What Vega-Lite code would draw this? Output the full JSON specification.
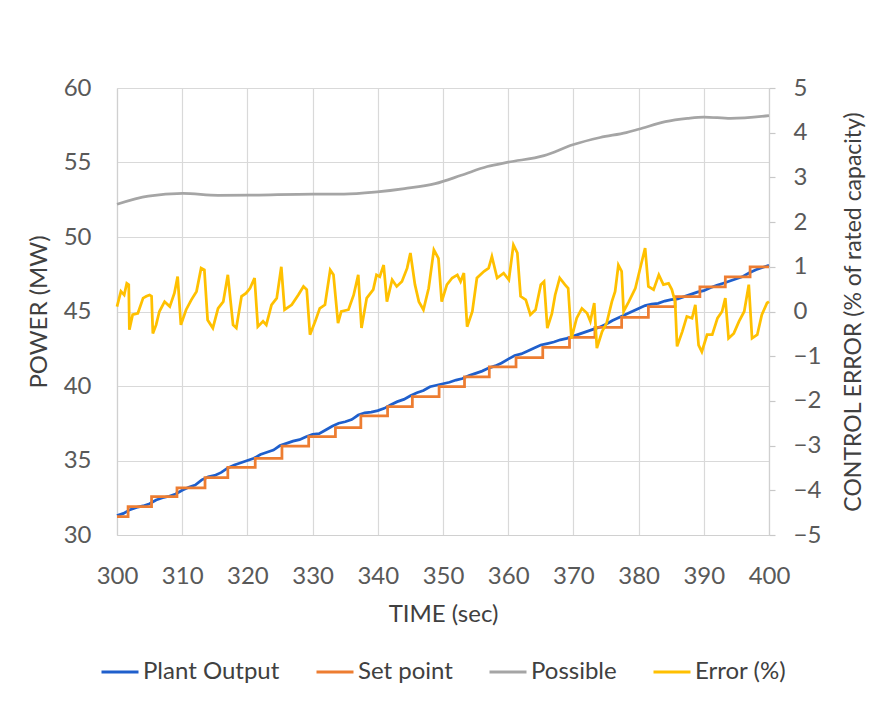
{
  "$schema": "https://vega.github.io/schema/vega-lite/v6.json",
  "width": 652,
  "height": 447,
  "autosize": {"type": "none"},
  "padding": {"left": 117, "top": 88, "right": 114, "bottom": 169},
  "background": "white",
  "datasets": {
    "plant": [
      {"t": 300, "v": 31.30}, {"t": 301, "v": 31.45}, {"t": 302, "v": 31.70}, {"t": 303, "v": 31.85}, {"t": 304, "v": 31.95},
      {"t": 305, "v": 32.10}, {"t": 306, "v": 32.35}, {"t": 307, "v": 32.50}, {"t": 308, "v": 32.60}, {"t": 309, "v": 32.75},
      {"t": 310, "v": 33.00}, {"t": 311, "v": 33.20}, {"t": 312, "v": 33.35}, {"t": 313, "v": 33.70}, {"t": 314, "v": 33.90},
      {"t": 315, "v": 34.00}, {"t": 316, "v": 34.20}, {"t": 317, "v": 34.50}, {"t": 318, "v": 34.70}, {"t": 319, "v": 34.85},
      {"t": 320, "v": 35.00}, {"t": 321, "v": 35.15}, {"t": 322, "v": 35.40}, {"t": 323, "v": 35.55}, {"t": 324, "v": 35.70},
      {"t": 325, "v": 36.00}, {"t": 326, "v": 36.15}, {"t": 327, "v": 36.30}, {"t": 328, "v": 36.40}, {"t": 329, "v": 36.60},
      {"t": 330, "v": 36.75}, {"t": 331, "v": 36.80}, {"t": 332, "v": 37.05}, {"t": 333, "v": 37.30}, {"t": 334, "v": 37.50},
      {"t": 335, "v": 37.60}, {"t": 336, "v": 37.75}, {"t": 337, "v": 38.05}, {"t": 338, "v": 38.20}, {"t": 339, "v": 38.25},
      {"t": 340, "v": 38.35}, {"t": 341, "v": 38.50}, {"t": 342, "v": 38.75}, {"t": 343, "v": 38.95}, {"t": 344, "v": 39.10},
      {"t": 345, "v": 39.35}, {"t": 346, "v": 39.55}, {"t": 347, "v": 39.70}, {"t": 348, "v": 39.95}, {"t": 349, "v": 40.05},
      {"t": 350, "v": 40.15}, {"t": 351, "v": 40.25}, {"t": 352, "v": 40.40}, {"t": 353, "v": 40.50}, {"t": 354, "v": 40.70},
      {"t": 355, "v": 40.85}, {"t": 356, "v": 41.00}, {"t": 357, "v": 41.20}, {"t": 358, "v": 41.35}, {"t": 359, "v": 41.55},
      {"t": 360, "v": 41.80}, {"t": 361, "v": 42.05}, {"t": 362, "v": 42.15}, {"t": 363, "v": 42.35}, {"t": 364, "v": 42.55},
      {"t": 365, "v": 42.75}, {"t": 366, "v": 42.85}, {"t": 367, "v": 42.95}, {"t": 368, "v": 43.10}, {"t": 369, "v": 43.20},
      {"t": 370, "v": 43.35}, {"t": 371, "v": 43.50}, {"t": 372, "v": 43.65}, {"t": 373, "v": 43.80}, {"t": 374, "v": 43.95},
      {"t": 375, "v": 44.15}, {"t": 376, "v": 44.40}, {"t": 377, "v": 44.60}, {"t": 378, "v": 44.80}, {"t": 379, "v": 45.00},
      {"t": 380, "v": 45.20}, {"t": 381, "v": 45.40}, {"t": 382, "v": 45.50}, {"t": 383, "v": 45.55}, {"t": 384, "v": 45.70},
      {"t": 385, "v": 45.80}, {"t": 386, "v": 45.85}, {"t": 387, "v": 46.00}, {"t": 388, "v": 46.15}, {"t": 389, "v": 46.30},
      {"t": 390, "v": 46.40}, {"t": 391, "v": 46.60}, {"t": 392, "v": 46.75}, {"t": 393, "v": 46.90}, {"t": 394, "v": 47.05},
      {"t": 395, "v": 47.20}, {"t": 396, "v": 47.35}, {"t": 397, "v": 47.60}, {"t": 398, "v": 47.80}, {"t": 399, "v": 47.95},
      {"t": 400, "v": 48.10}
    ],
    "setpoint": [
      {"t": 300, "v": 31.23}, {"t": 301.7, "v": 31.90}, {"t": 305.3, "v": 32.57}, {"t": 309.2, "v": 33.17},
      {"t": 313.5, "v": 33.85}, {"t": 317.0, "v": 34.54}, {"t": 321.2, "v": 35.15}, {"t": 325.3, "v": 35.97},
      {"t": 329.4, "v": 36.60}, {"t": 333.5, "v": 37.20}, {"t": 337.4, "v": 37.99}, {"t": 341.5, "v": 38.61},
      {"t": 345.3, "v": 39.28}, {"t": 349.4, "v": 39.95}, {"t": 353.3, "v": 40.62}, {"t": 357.1, "v": 41.29},
      {"t": 361.2, "v": 41.90}, {"t": 365.3, "v": 42.60}, {"t": 369.4, "v": 43.27}, {"t": 373.3, "v": 43.94},
      {"t": 377.4, "v": 44.61}, {"t": 381.5, "v": 45.32}, {"t": 385.6, "v": 45.99}, {"t": 389.4, "v": 46.66},
      {"t": 393.3, "v": 47.33}, {"t": 397.1, "v": 48.00}, {"t": 400, "v": 48.00}
    ],
    "possible": [
      {"t": 300.0, "v": 52.20}, {"t": 304.8, "v": 52.74}, {"t": 310.1, "v": 52.92}, {"t": 315.5, "v": 52.80},
      {"t": 320.3, "v": 52.81}, {"t": 330.1, "v": 52.88}, {"t": 334.8, "v": 52.88}, {"t": 339.9, "v": 53.03},
      {"t": 344.1, "v": 53.25}, {"t": 348.8, "v": 53.58}, {"t": 352.8, "v": 54.14}, {"t": 356.8, "v": 54.73},
      {"t": 360.0, "v": 55.02}, {"t": 365.5, "v": 55.46}, {"t": 369.9, "v": 56.19}, {"t": 374.1, "v": 56.68},
      {"t": 378.1, "v": 57.01}, {"t": 380.0, "v": 57.23}, {"t": 384.1, "v": 57.74}, {"t": 387.5, "v": 57.96},
      {"t": 390.0, "v": 58.05}, {"t": 394.1, "v": 57.96}, {"t": 400.0, "v": 58.14}
    ],
    "error": [
      {"t": 300.0, "e": 0.11}, {"t": 300.6, "e": 0.45}, {"t": 301.1, "e": 0.37}, {"t": 301.5, "e": 0.63}, {"t": 301.8, "e": 0.60},
      {"t": 301.9, "e": -0.41}, {"t": 302.4, "e": -0.07}, {"t": 303.2, "e": -0.04}, {"t": 304.0, "e": 0.30}, {"t": 304.5, "e": 0.34},
      {"t": 305.0, "e": 0.37}, {"t": 305.3, "e": 0.34}, {"t": 305.5, "e": -0.49}, {"t": 306.0, "e": -0.30}, {"t": 306.5, "e": 0.00},
      {"t": 307.3, "e": 0.22}, {"t": 308.1, "e": 0.11}, {"t": 308.8, "e": 0.41}, {"t": 309.3, "e": 0.78}, {"t": 309.8, "e": -0.30},
      {"t": 310.6, "e": 0.04}, {"t": 311.4, "e": 0.26}, {"t": 312.2, "e": 0.45}, {"t": 312.9, "e": 0.97}, {"t": 313.4, "e": 0.93},
      {"t": 313.9, "e": -0.19}, {"t": 314.7, "e": -0.37}, {"t": 315.5, "e": 0.07}, {"t": 316.3, "e": 0.22}, {"t": 317.0, "e": 0.82},
      {"t": 317.8, "e": -0.30}, {"t": 318.3, "e": -0.37}, {"t": 319.1, "e": 0.34}, {"t": 319.8, "e": 0.41}, {"t": 320.4, "e": 0.52},
      {"t": 321.1, "e": 0.75}, {"t": 321.6, "e": -0.34}, {"t": 322.4, "e": -0.22}, {"t": 322.9, "e": -0.30}, {"t": 323.7, "e": 0.15},
      {"t": 324.5, "e": 0.30}, {"t": 325.2, "e": 1.00}, {"t": 325.7, "e": 0.04}, {"t": 326.8, "e": 0.15}, {"t": 327.8, "e": 0.37},
      {"t": 328.6, "e": 0.56}, {"t": 329.1, "e": 0.49}, {"t": 329.6, "e": -0.52}, {"t": 330.4, "e": -0.22}, {"t": 331.1, "e": 0.07},
      {"t": 331.9, "e": 0.15}, {"t": 332.7, "e": 0.93}, {"t": 333.2, "e": 0.82}, {"t": 333.9, "e": -0.26}, {"t": 334.4, "e": 0.00},
      {"t": 335.5, "e": 0.04}, {"t": 336.3, "e": 0.37}, {"t": 337.0, "e": 0.82}, {"t": 337.5, "e": -0.37}, {"t": 338.3, "e": 0.30},
      {"t": 339.3, "e": 0.49}, {"t": 339.8, "e": 0.82}, {"t": 340.3, "e": 0.78}, {"t": 340.9, "e": 1.04}, {"t": 341.4, "e": 0.22},
      {"t": 342.2, "e": 0.71}, {"t": 342.9, "e": 0.56}, {"t": 343.7, "e": 0.67}, {"t": 344.5, "e": 0.97}, {"t": 345.0, "e": 1.31},
      {"t": 345.7, "e": 0.60}, {"t": 346.3, "e": 0.22}, {"t": 347.0, "e": 0.04}, {"t": 347.8, "e": 0.52}, {"t": 348.6, "e": 1.38},
      {"t": 349.3, "e": 1.19}, {"t": 349.8, "e": 0.22}, {"t": 350.6, "e": 0.60}, {"t": 351.4, "e": 0.75}, {"t": 352.2, "e": 0.82},
      {"t": 352.7, "e": 0.67}, {"t": 353.2, "e": 0.86}, {"t": 353.7, "e": -0.34}, {"t": 354.5, "e": 0.00}, {"t": 355.2, "e": 0.75},
      {"t": 356.3, "e": 0.90}, {"t": 357.0, "e": 0.97}, {"t": 357.5, "e": 1.23}, {"t": 358.3, "e": 0.75}, {"t": 359.3, "e": 0.86},
      {"t": 360.1, "e": 0.71}, {"t": 360.8, "e": 1.49}, {"t": 361.4, "e": 1.31}, {"t": 361.9, "e": 0.34}, {"t": 362.7, "e": 0.26},
      {"t": 363.4, "e": -0.07}, {"t": 364.2, "e": 0.04}, {"t": 365.0, "e": 0.60}, {"t": 365.5, "e": 0.67}, {"t": 366.0, "e": -0.37},
      {"t": 366.7, "e": -0.05}, {"t": 367.2, "e": 0.37}, {"t": 367.9, "e": 0.75}, {"t": 368.7, "e": 0.60}, {"t": 369.2, "e": 0.52},
      {"t": 369.7, "e": -0.60}, {"t": 370.5, "e": -0.15}, {"t": 371.3, "e": 0.07}, {"t": 372.1, "e": -0.04}, {"t": 372.6, "e": -0.22},
      {"t": 373.2, "e": 0.19}, {"t": 373.6, "e": -0.82}, {"t": 374.4, "e": -0.45}, {"t": 375.1, "e": -0.26}, {"t": 375.9, "e": 0.22},
      {"t": 376.4, "e": 0.45}, {"t": 376.9, "e": 1.04}, {"t": 377.4, "e": 0.90}, {"t": 377.7, "e": 0.00}, {"t": 378.5, "e": 0.22},
      {"t": 379.5, "e": 0.52}, {"t": 380.3, "e": 1.00}, {"t": 381.0, "e": 1.42}, {"t": 381.5, "e": 0.56}, {"t": 382.3, "e": 0.49},
      {"t": 383.1, "e": 0.82}, {"t": 383.8, "e": 0.60}, {"t": 384.6, "e": 0.63}, {"t": 385.1, "e": 0.49}, {"t": 385.6, "e": 0.22},
      {"t": 385.9, "e": -0.78}, {"t": 386.7, "e": -0.45}, {"t": 387.4, "e": -0.11}, {"t": 388.2, "e": -0.15}, {"t": 388.7, "e": 0.15},
      {"t": 389.2, "e": -0.75}, {"t": 389.7, "e": -0.90}, {"t": 390.5, "e": -0.52}, {"t": 391.3, "e": -0.52}, {"t": 392.1, "e": -0.15},
      {"t": 392.8, "e": 0.00}, {"t": 393.3, "e": 0.30}, {"t": 393.8, "e": -0.60}, {"t": 394.6, "e": -0.49}, {"t": 395.4, "e": -0.22},
      {"t": 396.2, "e": 0.00}, {"t": 396.9, "e": 0.60}, {"t": 397.4, "e": -0.60}, {"t": 398.2, "e": -0.52}, {"t": 398.9, "e": -0.07},
      {"t": 399.7, "e": 0.19}, {"t": 400.0, "e": 0.22}
    ]
  },
  "encoding": {
    "x": {
      "field": "t",
      "type": "quantitative",
      "scale": {"domain": [300, 400], "nice": false, "zero": false},
      "axis": {
        "title": "TIME (sec)",
        "values": [300, 310, 320, 330, 340, 350, 360, 370, 380, 390, 400],
        "grid": true,
        "ticks": false,
        "labelFlush": false,
        "labelBound": false,
        "labelOverlap": false,
        "labelPadding": 29,
        "titlePadding": 14
      }
    }
  },
  "layer": [
    {
      "encoding": {
        "y": {
          "field": "v",
          "type": "quantitative",
          "scale": {"domain": [30, 60], "nice": false, "zero": false},
          "axis": {
            "orient": "left",
            "title": "POWER (MW)",
            "values": [30, 35, 40, 45, 50, 55, 60],
            "grid": true,
            "ticks": false,
            "labelFlush": false,
            "labelOverlap": false,
            "labelPadding": 26,
            "titlePadding": 12
          }
        }
      },
      "layer": [
        {
          "data": {"name": "plant"},
          "mark": {"type": "line", "strokeWidth": 2.75},
          "encoding": {
            "color": {
              "datum": "Plant Output",
              "type": "nominal",
              "scale": {
                "domain": ["Plant Output", "Set point", "Possible", "Error (%)"],
                "range": ["#1f5fcc", "#ed7d31", "#a5a5a5", "#ffc000"]
              },
              "legend": {"title": null}
            }
          }
        },
        {
          "data": {"name": "setpoint"},
          "mark": {"type": "line", "strokeWidth": 2.75, "interpolate": "step-after"},
          "encoding": {"color": {"datum": "Set point", "type": "nominal"}}
        },
        {
          "data": {"name": "possible"},
          "mark": {"type": "line", "strokeWidth": 2.75, "interpolate": "monotone"},
          "encoding": {"color": {"datum": "Possible", "type": "nominal"}}
        }
      ]
    },
    {
      "data": {"name": "error"},
      "mark": {"type": "line", "strokeWidth": 2.75},
      "encoding": {
        "y": {
          "field": "e",
          "type": "quantitative",
          "scale": {"domain": [-5, 5], "nice": false, "zero": false},
          "axis": {
            "orient": "right",
            "title": "CONTROL ERROR (% of rated capacity)",
            "titleAngle": -90,
            "titleBaseline": "top",
            "titleFontSize": 23,
            "values": [-5, -4, -3, -2, -1, 0, 1, 2, 3, 4, 5],
            "grid": false,
            "ticks": true,
            "tickSize": 6,
            "labelFlush": false,
            "labelOverlap": false,
            "labelPadding": 18,
            "titlePadding": 22
          }
        },
        "color": {"datum": "Error (%)", "type": "nominal"}
      }
    }
  ],
  "resolve": {"scale": {"y": "independent"}},
  "config": {
    "font": "Lato",
    "view": {"stroke": null},
    "axis": {
      "labelFont": "Lato",
      "labelFontSize": 24,
      "labelColor": "#595959",
      "titleFont": "Lato",
      "titleFontSize": 24,
      "titleFontWeight": "normal",
      "titleColor": "#404040",
      "gridColor": "#d9d9d9",
      "gridWidth": 1.2,
      "domainColor": "#d0d0d0",
      "domainWidth": 1.2,
      "tickColor": "#c8c8c8",
      "tickWidth": 1.2
    },
    "legend": {
      "orient": "bottom",
      "direction": "horizontal",
      "layout": {"bottom": {"anchor": "middle"}},
      "offset": 26,
      "symbolType": "stroke",
      "symbolSize": 1369,
      "symbolStrokeWidth": 3,
      "labelFont": "Lato",
      "labelFontSize": 24,
      "labelColor": "#404040",
      "labelOffset": 3,
      "columnPadding": 30
    }
  }
}
